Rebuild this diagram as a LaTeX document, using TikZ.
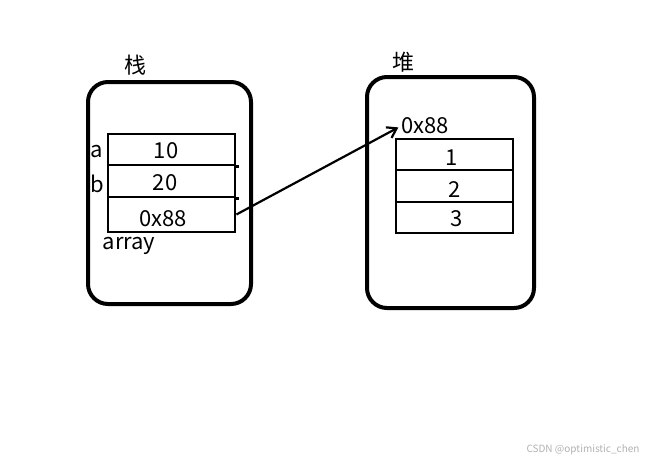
\documentclass[tikz,border=0pt]{standalone}
\usepackage{fontspec}
\setmainfont{Noto Sans CJK SC}
\usetikzlibrary{arrows.meta}
\begin{document}
\begin{tikzpicture}[x=1pt,y=-1pt,font=\fontsize{22}{26}\selectfont,
  frame/.style={draw,line width=4pt,rounded corners=20pt,inner sep=0pt},
  cell/.style={draw,line width=2.8pt,inner sep=0pt,minimum width=127pt},
  txt/.style={inner sep=0pt}]
\useasboundingbox (0,0) rectangle (661,464);
\fill[white] (0,0) rectangle (661,464);
% stack
\node[frame,minimum width=163pt,minimum height=222pt] (stack) at (169.5,193) {};
\node[txt] (stacklbl) at (135,65) {栈};
\node[cell,minimum height=31pt] (ca) at (171.5,149.5) {};
\node[cell,minimum height=32pt] (cb) at (171.5,181) {};
\node[cell,minimum height=35pt] (cc) at (171.5,214.5) {};
\draw[line width=2.8pt] (ca.south east) -- +(3,0) coordinate (ea);
\draw[line width=2.8pt] (cb.south east) -- +(3,0) coordinate (eb);
\node[txt] (t10) at (166,151) {10};
\node[txt] (t20) at (165,183) {20};
\node[txt] (tptr) at (163,219) {0x88};
\node[txt] (la) at (97,152) {a};
\node[txt] (lb) at (97,184) {b};
\node[txt] (larr) at (129,246) {array};
% heap
\node[frame,minimum width=167pt,minimum height=231pt] (heap) at (450.5,192.5) {};
\node[txt] (heaplbl) at (403,62) {堆};
\node[txt] (haddr) at (425,126) {0x88};
\node[cell,minimum width=117pt,minimum height=31pt] (h1) at (454.5,154.5) {};
\node[cell,minimum width=117pt,minimum height=32pt] (h2) at (454.5,186) {};
\node[cell,minimum width=117pt,minimum height=31pt] (h3) at (454.5,217.5) {};
\node[txt] (t1) at (452,158) {1};
\node[txt] (t2) at (455,190) {2};
\node[txt] (t3) at (457,219) {3};
% arrow
\draw[line width=2.2pt,shorten >=3pt,-{Straight Barb[length=9pt,width=12pt,line width=2.2pt]}] (cc.east) -- (haddr.west);
% watermark
\node[txt,text=black!30,font=\fontsize{10}{12}\selectfont] (wm) at (583,450) {CSDN @optimistic\_chen};
\end{tikzpicture}
\end{document}
